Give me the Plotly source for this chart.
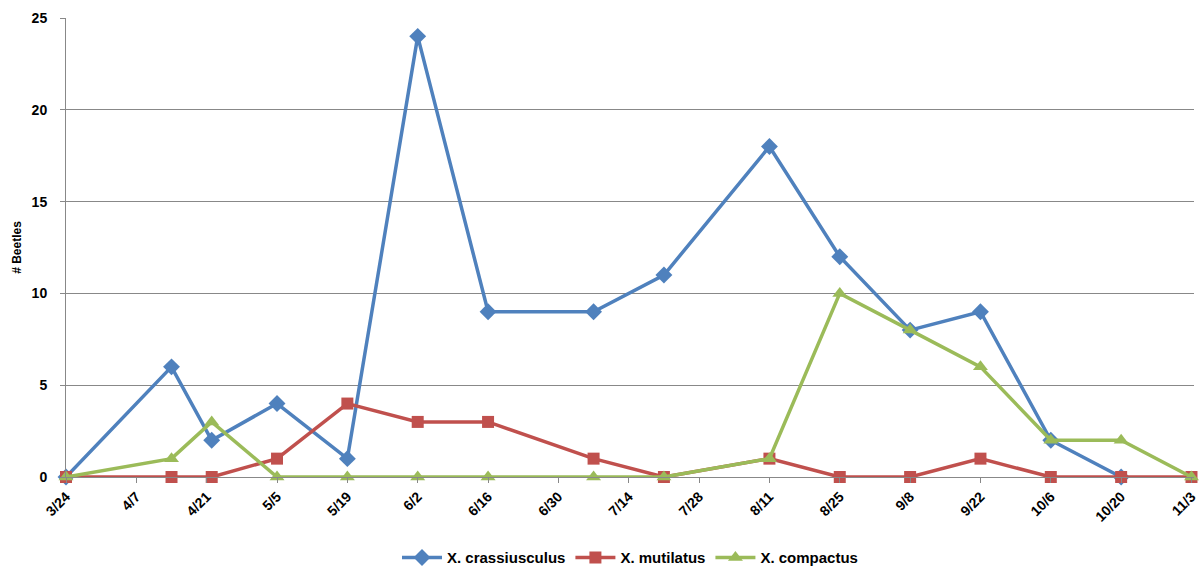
import plotly.graph_objects as go

# Sampling dates (2010 season) and beetle counts per species
dates_crass = ["2010-03-24", "2010-04-14", "2010-04-22", "2010-05-05", "2010-05-19",
               "2010-06-02", "2010-06-16", "2010-07-07", "2010-07-21", "2010-08-11",
               "2010-08-25", "2010-09-08", "2010-09-22", "2010-10-06", "2010-10-20"]
crassiusculus = [0, 6, 2, 4, 1, 24, 9, 9, 11, 18, 12, 8, 9, 2, 0]

dates_other = ["2010-03-24", "2010-04-14", "2010-04-22", "2010-05-05", "2010-05-19",
               "2010-06-02", "2010-06-16", "2010-07-07", "2010-07-21", "2010-08-11",
               "2010-08-25", "2010-09-08", "2010-09-22", "2010-10-06", "2010-10-20",
               "2010-11-03"]
mutilatus = [0, 0, 0, 1, 4, 3, 3, 1, 0, 1, 0, 0, 1, 0, 0, 0]
compactus = [0, 1, 3, 0, 0, 0, 0, 0, 0, 1, 10, 8, 6, 2, 2, 0]

tick_dates = ["2010-03-24", "2010-04-07", "2010-04-21", "2010-05-05", "2010-05-19",
              "2010-06-02", "2010-06-16", "2010-06-30", "2010-07-14", "2010-07-28",
              "2010-08-11", "2010-08-25", "2010-09-08", "2010-09-22", "2010-10-06",
              "2010-10-20", "2010-11-03"]
tick_labels = ["3/24", "4/7", "4/21", "5/5", "5/19", "6/2", "6/16", "6/30", "7/14",
               "7/28", "8/11", "8/25", "9/8", "9/22", "10/6", "10/20", "11/3"]

BLUE = "#4F81BD"
RED = "#C0504D"
GREEN = "#9BBB59"

fig = go.Figure()
fig.add_trace(go.Scatter(
    x=dates_crass, y=crassiusculus, name="<b>X. crassiusculus</b>", mode="lines+markers",
    line=dict(color=BLUE, width=3.5),
    marker=dict(symbol="diamond", size=13, color=BLUE),
    cliponaxis=False))
fig.add_trace(go.Scatter(
    x=dates_other, y=mutilatus, name="<b>X. mutilatus</b>", mode="lines+markers",
    line=dict(color=RED, width=3.5),
    marker=dict(symbol="square", size=12, color=RED),
    cliponaxis=False))
fig.add_trace(go.Scatter(
    x=dates_other, y=compactus, name="<b>X. compactus</b>", mode="lines+markers",
    line=dict(color=GREEN, width=3.5),
    marker=dict(symbol="triangle-up", size=13, color=GREEN),
    cliponaxis=False))

fig.update_layout(
    width=1203, height=571,
    margin=dict(l=66, r=9, t=18, b=94, autoexpand=False),
    paper_bgcolor="white", plot_bgcolor="white",
    font=dict(family="Liberation Sans, Arial, sans-serif", color="black"),
    showlegend=True,
    legend=dict(orientation="h", x=0.5, xanchor="center", y=-0.176, yanchor="middle",
                font=dict(size=15, family="Liberation Sans, Arial, sans-serif"),
                itemwidth=40, tracegroupgap=0),
)

fig.update_xaxes(
    type="date",
    range=["2010-03-24", "2010-11-03 12:00"],
    tickvals=tick_dates, ticktext=[f"<b>{t}</b>" for t in tick_labels],
    tickangle=-45, tickfont=dict(size=14), ticklabeloverflow="allow",
    ticks="outside", ticklen=5, tickcolor="#888888",
    showline=True, linecolor="#888888", linewidth=1,
    showgrid=False, zeroline=False, automargin=False,
)
fig.update_yaxes(
    range=[0, 25], tickvals=[0, 5, 10, 15, 20, 25],
    ticktext=["<b>0</b>", "<b>5</b>", "<b>10</b>", "<b>15</b>", "<b>20</b>", "<b>25</b>"],
    tickfont=dict(size=14),
    ticks="outside", ticklen=5, tickcolor="#888888", ticklabelstandoff=10,
    showline=True, linecolor="#888888", linewidth=1,
    showgrid=True, gridcolor="#888888", gridwidth=1,
    zeroline=False, automargin=False,
    title=dict(text="<b># Beetles</b>", font=dict(size=12), standoff=7),
)

fig.write_html("out.html")
